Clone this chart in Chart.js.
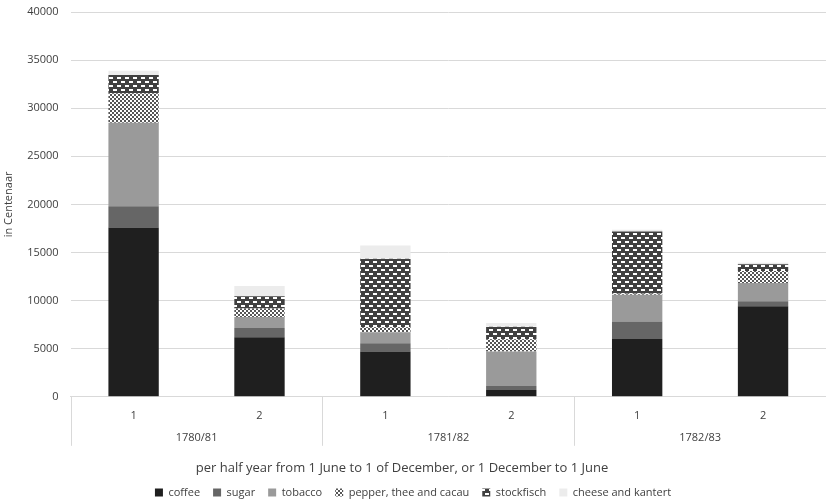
<!DOCTYPE html>
<html lang="en">
<head>
  <meta charset="UTF-8" />
  <title>Imports per half year</title>
  <script src="https://cdn.jsdelivr.net/npm/chart.js"></script>
  <style>
    body { margin: 0; background: #fff; }
    #wrap { width: 826px; height: 504px; }
  </style>
</head>
<body>
  <div id="wrap"><canvas id="chart"></canvas></div>
  <script>
    // Data (in Centenaar)
    const halves = ['1', '2', '1', '2', '1', '2'];
    const years = ['1780/81', '1781/82', '1782/83'];
    const coffee = [17600, 6200, 4700, 700, 6000, 9400];
    const sugar = [2200, 950, 870, 410, 1840, 520];
    const tobacco = [8700, 1150, 1140, 3600, 2780, 1900];
    const pepper = [3050, 870, 520, 1280, 100, 1250];
    const stockfisch = [1900, 1280, 7120, 1290, 6450, 700];
    const cheese = [450, 1070, 1390, 380, 200, 170];
    const xTitle = 'per half year from 1 June to 1 of December, or 1 December to 1 June';

    function checker() {
      const c = document.createElement('canvas');
      c.width = 4; c.height = 4;
      const g = c.getContext('2d');
      g.fillStyle = '#fff'; g.fillRect(0, 0, 4, 4);
      g.fillStyle = '#555';
      g.fillRect(0, 0, 2, 2);
      g.fillRect(2, 2, 2, 2);
      return g.createPattern(c, 'repeat');
    }

    function dashes() {
      const c = document.createElement('canvas');
      c.width = 8; c.height = 8;
      const g = c.getContext('2d');
      g.fillStyle = '#404040'; g.fillRect(0, 0, 8, 8);
      g.fillStyle = '#fff';
      g.fillRect(1, 1, 4, 2);
      g.fillRect(5, 5, 3, 2);
      g.fillRect(0, 5, 1, 2);
      return g.createPattern(c, 'repeat');
    }

    // year groups under the half-year ticks, plus the axis title
    const groupLabels = {
      id: 'groupLabels',
      afterDraw(chart) {
        const x = chart.scales.x;
        const ctx = chart.ctx;
        const bottom = chart.chartArea.bottom;
        const half = (x.getPixelForValue(1) - x.getPixelForValue(0)) / 2;
        ctx.save();
        ctx.strokeStyle = '#d9d9d9';
        ctx.lineWidth = 1;
        ctx.fillStyle = '#404040';
        ctx.font = '11px "Open Sans"';
        ctx.textAlign = 'center';
        ctx.textBaseline = 'middle';
        years.forEach((y, i) => {
          const left = x.getPixelForValue(2 * i) - half;
          const right = x.getPixelForValue(2 * i + 1) + half;
          ctx.beginPath();
          ctx.moveTo(Math.round(left) + 0.5, bottom);
          ctx.lineTo(Math.round(left) + 0.5, bottom + 49);
          ctx.stroke();
          ctx.fillText(y, (left + right) / 2, bottom + 41);
        });
        ctx.font = '13px "Open Sans"';
        ctx.fillText(xTitle, chart.width / 2 - 11, bottom + 71);
        ctx.restore();
      }
    };

    new Chart(document.getElementById('chart'), {
      type: 'bar',
      data: {
        labels: halves,
        datasets: [
          { label: 'coffee', data: coffee, backgroundColor: '#1f1f1f' },
          { label: 'sugar', data: sugar, backgroundColor: '#666666' },
          { label: 'tobacco', data: tobacco, backgroundColor: '#9a9a9a' },
          { label: 'pepper, thee and cacau', data: pepper, backgroundColor: checker() },
          { label: 'stockfisch', data: stockfisch, backgroundColor: dashes() },
          { label: 'cheese and kantert', data: cheese, backgroundColor: '#ececec' }
        ]
      },
      options: {
        responsive: true,
        maintainAspectRatio: false,
        animation: false,
        datasets: { bar: { barPercentage: 0.4, categoryPercentage: 1, borderWidth: 0 } },
        layout: { padding: { top: 0, right: 0, left: 0, bottom: -4 } },
        plugins: {
          tooltip: { enabled: false },
          legend: {
            position: 'bottom',
            labels: {
              boxWidth: 8, boxHeight: 8, padding: 13,
              color: '#404040',
              font: { family: 'Open Sans', size: 11 }
            }
          }
        },
        scales: {
          x: {
            stacked: true,
            grid: { display: false, drawTicks: false },
            border: { display: true, color: '#d9d9d9' },
            ticks: { color: '#404040', padding: 12, font: { family: 'Open Sans', size: 11 } },
            afterFit(scale) { scale.height += 40; }
          },
          y: {
            stacked: true,
            min: 0, max: 40000,
            grid: { color: '#d9d9d9', drawTicks: false },
            border: { display: false },
            ticks: {
              stepSize: 5000, color: '#404040', padding: 12,
              font: { family: 'Open Sans', size: 11 },
              callback: v => v
            },
            title: {
              display: true, text: 'in Centenaar', color: '#404040',
              font: { family: 'Open Sans', size: 11 }, padding: { top: 2, bottom: 0 }
            },
            afterFit(scale) { scale.paddingTop = 12; }
          }
        }
      },
      plugins: [groupLabels]
    });
  </script>
</body>
</html>
